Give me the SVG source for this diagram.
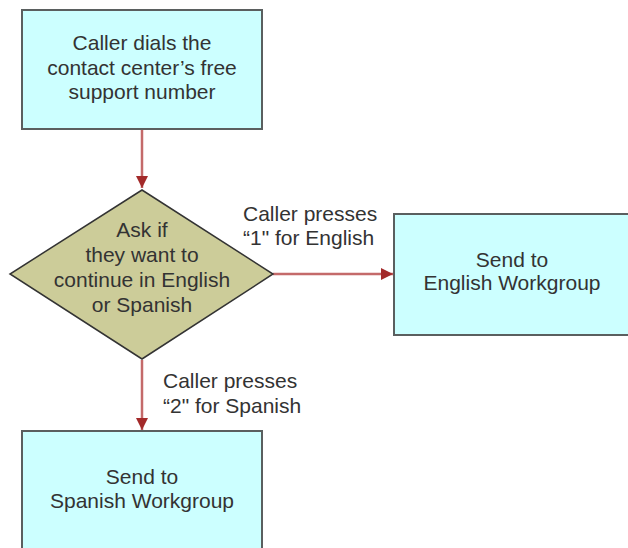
<svg xmlns="http://www.w3.org/2000/svg" width="628" height="548" viewBox="0 0 628 548">
  <style>
    .box { fill: #ccffff; stroke: #5a5f5f; stroke-width: 2; }
    .decision { fill: #cccc99; stroke: #333333; stroke-width: 1.5; }
    .label { font-family: "Liberation Sans", Arial, sans-serif; font-size: 21px; fill: #333333; }
    .mid { text-anchor: middle; }
    .flow { stroke: #c46a6a; stroke-width: 2.5; fill: none; }
  </style>
  <defs>
    <marker id="arrow" viewBox="0 0 10 10" refX="10" refY="5" markerWidth="12" markerHeight="12" markerUnits="userSpaceOnUse" orient="auto">
      <path d="M0,0 L10,5 L0,10 Z" fill="#a32a2a"/>
    </marker>
  </defs>
  <rect width="628" height="548" fill="#ffffff"/>

  <g id="connectors">
    <line class="flow" x1="142" y1="130" x2="142" y2="188" marker-end="url(#arrow)"/>
    <line class="flow" x1="273" y1="274" x2="393" y2="274" marker-end="url(#arrow)"/>
    <line class="flow" x1="142" y1="360" x2="142" y2="430" marker-end="url(#arrow)"/>
    <text class="label" x="243" y="221">Caller presses</text>
    <text class="label" x="243" y="245">“1" for English</text>
    <text class="label" x="163" y="388">Caller presses</text>
    <text class="label" x="163" y="413">“2" for Spanish</text>
  </g>

  <g id="node-dial">
    <rect class="box" x="22" y="10" width="240" height="119"/>
    <text class="label mid" x="142" y="50">Caller dials the</text>
    <text class="label mid" x="142" y="74.5">contact center’s free</text>
    <text class="label mid" x="142" y="99">support number</text>
  </g>

  <g id="node-language">
    <polygon class="decision" points="142,190 273,274 142,359 10,274"/>
    <text class="label mid" x="142" y="237">Ask if</text>
    <text class="label mid" x="142" y="262">they want to</text>
    <text class="label mid" x="142" y="287">continue in English</text>
    <text class="label mid" x="142" y="312">or Spanish</text>
  </g>

  <g id="node-english">
    <rect class="box" x="394" y="214" width="240" height="121"/>
    <text class="label mid" x="512" y="267">Send to</text>
    <text class="label mid" x="512" y="290">English Workgroup</text>
  </g>

  <g id="node-spanish">
    <rect class="box" x="22" y="431" width="240" height="140"/>
    <text class="label mid" x="142" y="484">Send to</text>
    <text class="label mid" x="142" y="508">Spanish Workgroup</text>
  </g>
</svg>
